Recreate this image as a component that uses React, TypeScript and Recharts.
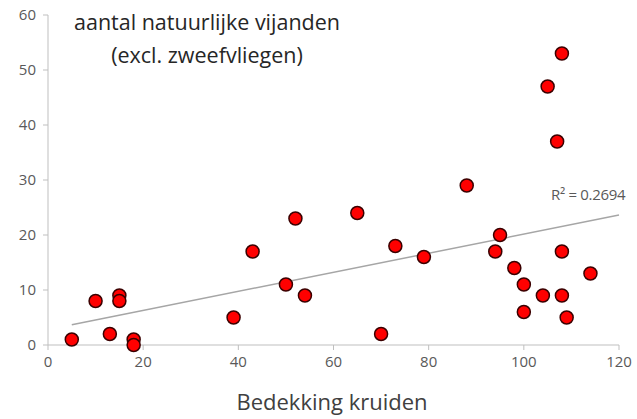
import React from 'react';
import { ScatterChart, Scatter, XAxis, YAxis, ReferenceLine } from 'recharts';

const coverage = [5, 10, 13, 15, 15, 18, 18, 39, 43, 50, 52, 54, 65, 70, 73, 79, 88, 94, 95, 98, 100, 100, 104, 105, 107, 108, 108, 108, 109, 114];
const enemies = [1, 8, 2, 9, 8, 1, 0, 5, 17, 11, 23, 9, 24, 2, 18, 16, 29, 17, 20, 14, 11, 6, 9, 47, 37, 53, 17, 9, 5, 13];
const xTicks = [0, 20, 40, 60, 80, 100, 120];
const yTicks = [0, 10, 20, 30, 40, 50, 60];
const trendEndX = 120;
const rSquaredLabel = 'R² = 0.2694';

const points = coverage.map((x, i) => ({ x, y: enemies[i] }));

// least squares trendline from the data itself
const n = coverage.length;
const meanX = coverage.reduce((a, b) => a + b, 0) / n;
const meanY = enemies.reduce((a, b) => a + b, 0) / n;
let sxy = 0;
let sxx = 0;
coverage.forEach((x, i) => {
  sxy += (x - meanX) * (enemies[i] - meanY);
  sxx += (x - meanX) * (x - meanX);
});
const slope = sxy / sxx;
const intercept = meanY - slope * meanX;
const trendStartX = Math.min(...coverage);

const Dot = (props: any) => {
  const { cx, cy } = props;
  return <circle cx={cx} cy={cy} r={6.5} fill="#ff0000" stroke="#3a0000" strokeWidth={1.5} />;
};

const font = '"Open Sans", sans-serif';

export default function App() {
  return (
    <div style={{ position: 'absolute', left: 0, top: 0, width: 637, height: 419, background: '#fff', fontFamily: font }}>
      <ScatterChart width={637} height={419} margin={{ top: 15, right: 18, bottom: 0, left: 0 }}>
        <XAxis
          type="number"
          dataKey="x"
          domain={[0, 120]}
          ticks={xTicks}
          height={74}
          stroke="#bfbfbf"
          tickSize={5}
          tick={{ fill: '#595959', fontSize: 15, fontFamily: font }}
          tickMargin={6}
        />
        <YAxis
          type="number"
          dataKey="y"
          domain={[0, 60]}
          ticks={yTicks}
          width={48}
          stroke="#bfbfbf"
          tickSize={5}
          tick={{ fill: '#595959', fontSize: 15, fontFamily: font }}
          tickMargin={7}
        />
        <ReferenceLine
          segment={[
            { x: trendStartX, y: intercept + slope * trendStartX },
            { x: trendEndX, y: intercept + slope * trendEndX },
          ]}
          stroke="#a6a6a6"
          strokeWidth={1.5}
          ifOverflow="visible"
        />
        <Scatter data={points} shape={Dot} isAnimationActive={false} />
      </ScatterChart>

      <div style={{ position: 'absolute', left: 57, width: 300, top: 5, textAlign: 'center', fontSize: 21.5, lineHeight: '33px', color: '#262626' }}>
        aantal natuurlijke vijanden
        <br />
        (excl. zweefvliegen)
      </div>
      <div style={{ position: 'absolute', left: 551, top: 184, fontSize: 15, color: '#595959', whiteSpace: 'nowrap', letterSpacing: -0.3 }}>
        {rSquaredLabel}
      </div>
      <div style={{ position: 'absolute', left: 48, width: 568, top: 386, textAlign: 'center', fontSize: 22, color: '#404040' }}>
        Bedekking kruiden
      </div>
    </div>
  );
}
